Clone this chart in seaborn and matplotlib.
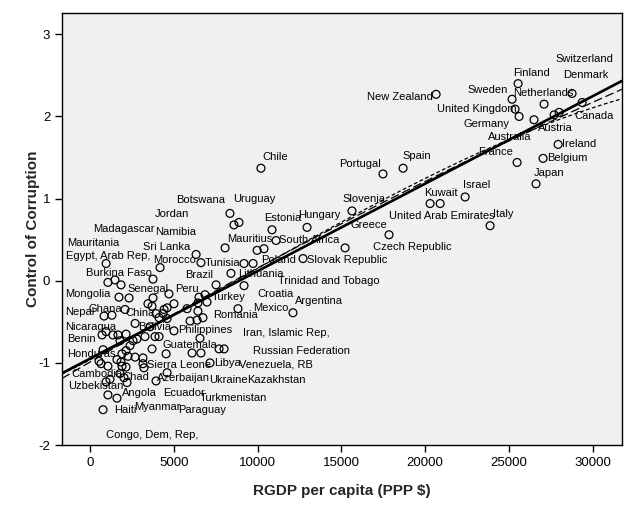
import numpy as np
import pandas as pd
import matplotlib
matplotlib.use("Agg")
import matplotlib.pyplot as plt
import seaborn as sns

countries = [
    "Finland", "Sweden", "Switzerland", "Denmark", "Netherlands", "United Kingdom",
    "Australia", "Germany", "Austria", "Canada", "Ireland", "Belgium", "France",
    "Japan", "New Zealand", "Chile", "Portugal", "Spain", "Israel", "Kuwait",
    "United Arab Emirates", "Italy", "Slovenia", "Hungary", "Estonia", "Greece",
    "Czech Republic", "Slovak Republic", "South Africa", "Botswana", "Uruguay",
    "Jordan", "Mauritius", "", "", "Namibia", "Tunisia", "Trinidad and Tobago",
    "Poland", "Egypt, Arab Rep,", "Morocco", "Lithuania", "Sri Lanka", "Mauritania",
    "Burkina Faso", "Madagascar", "Brazil", "Croatia", "Peru", "Mongolia", "Senegal",
    "", "", "Turkey", "", "", "", "", "", "", "Romania", "", "Mexico", "", "China",
    "", "", "Nepal", "Ghana", "", "", "", "", "", "Bolivia", "", "Philippines",
    "Argentina", "Nicaragua", "", "Benin", "", "", "", "", "Guatemala", "", "", "",
    "", "", "", "Kazakhstan", "Ukraine", "Venezuela, RB", "Russian Federation",
    "Iran, Islamic Rep,", "", "", "", "", "Honduras", "Paraguay", "", "", "", "",
    "Congo, Dem, Rep,", "", "", "Sierra Leone", "", "Libya", "Turkmenistan", "Chad",
    "", "Uzbekistan", "Cambodia", "Ecuador", "Azerbaijan", "Myanmar", "Angola", "Haiti",
]

rgdp = [
    25540, 25180, 28760, 29360, 27090, 25360,
    25600, 26490, 27690, 27990, 27930, 27030, 25480,
    26610, 20650, 10200, 17480, 18680, 22380, 20290,
    20890, 23870, 15630, 12950, 10860, 17840,
    15220, 12710, 11100, 8350, 8890,
    8590, 8060, 9970, 10380, 6330, 6620, 9190,
    9730, 960, 4180, 8410, 3760, 1070,
    1490, 1850, 7520, 9190, 4710, 1730, 2330,
    3760, 6500, 6860, 3460, 3700, 5010, 4600, 4420, 6440, 6980, 5790, 8830, 6440, 2090,
    3940, 4360, 840, 1310, 4120, 6390, 6740, 5970, 4600, 2690, 3580, 5010,
    12110, 1370, 960, 720, 1670, 2150, 3280, 3880, 4120, 6560, 2570, 2800,
    1790, 2390, 3700, 4540, 6090, 6620, 7700,
    8000, 1910, 2150, 2270, 2690, 780, 3160, 1610, 1850, 1910, 2150,
    1070, 660, 540, 3160, 3220, 7160, 4600, 1790,
    2030, 1190, 960, 2210, 3940, 1070, 1610, 780,
]

control = [
    2.40, 2.21, 2.28, 2.17, 2.15, 2.09,
    2.00, 1.96, 2.02, 2.05, 1.66, 1.49, 1.44,
    1.18, 2.27, 1.37, 1.30, 1.37, 1.02, 0.94,
    0.94, 0.67, 0.85, 0.65, 0.62, 0.56,
    0.40, 0.27, 0.49, 0.82, 0.71,
    0.68, 0.40, 0.37, 0.39, 0.32, 0.22, 0.21,
    0.21, 0.21, 0.16, 0.09, 0.02, -0.02,
    0.01, -0.05, -0.05, -0.06, -0.16, -0.20, -0.21,
    -0.21, -0.20, -0.17, -0.28, -0.31, -0.28, -0.33, -0.35, -0.27, -0.26, -0.34, -0.34, -0.37, -0.35,
    -0.40, -0.40, -0.43, -0.42, -0.45, -0.48, -0.45, -0.49, -0.46, -0.52, -0.56, -0.61,
    -0.39, -0.66, -0.62, -0.66, -0.66, -0.65, -0.68, -0.68, -0.68, -0.70, -0.73, -0.71,
    -0.73, -0.79, -0.83, -0.89, -0.88, -0.88, -0.83,
    -0.83, -0.89, -0.85, -0.92, -0.93, -0.84, -0.94, -0.96, -0.99, -1.04, -1.05,
    -1.04, -1.01, -0.98, -1.01, -1.06, -1.00, -1.12, -1.13,
    -1.18, -1.20, -1.23, -1.24, -1.22, -1.39, -1.43, -1.57,
]

# label placement (pixel offsets of the label's left/centre from its point)
label_offsets = {
    "Finland": (-5, 11), "Sweden": (-45, 9), "Switzerland": (-17, 34),
    "Denmark": (-19, 28), "Netherlands": (-31, 11), "United Kingdom": (-78, 0),
    "Australia": (-31, -21), "Germany": (-71, -4), "Austria": (-16, -13),
    "Canada": (15, -4), "Ireland": (4, 0), "Belgium": (4, 0), "France": (-39, 10),
    "Japan": (-2, 11), "New Zealand": (-69, -3), "Chile": (1, 11),
    "Portugal": (-44, 10), "Spain": (-1, 12), "Israel": (-2, 12), "Kuwait": (-6, 11),
    "United Arab Emirates": (-51, -12), "Italy": (3, 12), "Slovenia": (-9, 12),
    "Hungary": (-9, 12), "Estonia": (-8, 12), "Greece": (-39, 10),
    "Czech Republic": (28, 1), "Slovak Republic": (4, -1), "South Africa": (3, 0),
    "Botswana": (-54, 13), "Uruguay": (-6, 23), "Jordan": (-79, 11),
    "Mauritius": (2, 9), "Namibia": (-41, 22), "Tunisia": (4, 0),
    "Trinidad and Tobago": (34, -18), "Poland": (8, 3), "Egypt, Arab Rep,": (-40, 7),
    "Morocco": (-7, 8), "Lithuania": (7, -1), "Sri Lanka": (-10, 32),
    "Mauritania": (-41, 39), "Burkina Faso": (-29, 7), "Madagascar": (-28, 56),
    "Brazil": (-31, 10), "Croatia": (13, -8), "Peru": (6, 5), "Mongolia": (-54, 3),
    "Senegal": (-2, 9), "Turkey": (7, -2), "Romania": (6, -13), "Mexico": (15, 1),
    "China": (0, -4), "Nepal": (-39, 4), "Ghana": (-23, 6), "Bolivia": (3, -4),
    "Philippines": (4, 1), "Argentina": (2, 12), "Nicaragua": (-48, 8),
    "Benin": (-35, -4), "Guatemala": (3, -8), "Kazakhstan": (81, -26),
    "Ukraine": (17, -27), "Venezuela, RB": (38, -11), "Russian Federation": (34, -2),
    "Iran, Islamic Rep,": (19, 16), "Honduras": (-36, -4), "Paraguay": (35, -52),
    "Congo, Dem, Rep,": (-2, -69), "Sierra Leone": (4, -1), "Libya": (4, 0),
    "Turkmenistan": (33, -25), "Chad": (2, -3), "Uzbekistan": (-42, -7),
    "Cambodia": (-35, 8), "Ecuador": (36, -10), "Azerbaijan": (1, 3),
    "Myanmar": (26, -12), "Angola": (5, 5), "Haiti": (11, 0),
}

x_ticks = [0, 5000, 10000, 15000, 20000, 25000, 30000]
y_ticks = [-2, -1, 0, 1, 2, 3]

df = pd.DataFrame({"country": countries, "rgdp": rgdp, "control": control})

sns.set_style("ticks")
plt.rcParams["font.family"] = ["Liberation Sans", "DejaVu Sans"]
plt.rcParams["axes.unicode_minus"] = False

fig = plt.figure(figsize=(6.34, 5.09), dpi=100)
ax = fig.add_axes([62 / 634, 1 - 445 / 509, 560 / 634, 432 / 509])
ax.set_facecolor("#f0f0f0")
ax.set_xlim(-1670, 31740)
ax.set_ylim(-2.0, 3.26)

sns.regplot(data=df, x="rgdp", y="control", order=3, scatter=False, ci=None,
            truncate=False, ax=ax,
            line_kws=dict(color="black", lw=0.9, ls=(0, (3, 2))))
sns.regplot(data=df, x="rgdp", y="control", order=2, scatter=False, ci=None,
            truncate=False, ax=ax,
            line_kws=dict(color="black", lw=0.9, ls=(0, (7, 3))))
sns.regplot(data=df, x="rgdp", y="control", order=1, scatter=False, ci=None,
            truncate=False, ax=ax,
            line_kws=dict(color="black", lw=1.9))

sns.scatterplot(data=df, x="rgdp", y="control", marker="o", s=32,
                facecolor="none", edgecolor="black", linewidth=0.9, ax=ax, zorder=3)

for name, xv, yv in zip(countries, rgdp, control):
    if name:
        dx, dy = label_offsets[name]
        ax.annotate(name, (xv, yv), xytext=(dx, dy), textcoords="offset pixels",
                    ha="left", va="center", fontsize=8, color="black", zorder=4)

ax.set_xlim(-1670, 31740)
ax.set_ylim(-2.0, 3.26)
ax.set_xticks(x_ticks)
ax.set_yticks(y_ticks)
ax.tick_params(direction="out", length=5, width=1, color="black",
               labelsize=9.5, labelcolor="black")
for sp in ax.spines.values():
    sp.set_color("black")
    sp.set_linewidth(1)
ax.set_xlabel("RGDP per capita (PPP $)", fontsize=11, fontweight="bold", labelpad=11)
ax.set_ylabel("Control of Corruption", fontsize=11, fontweight="bold", labelpad=-1)

fig.savefig("out.png", dpi=100, facecolor="white")
